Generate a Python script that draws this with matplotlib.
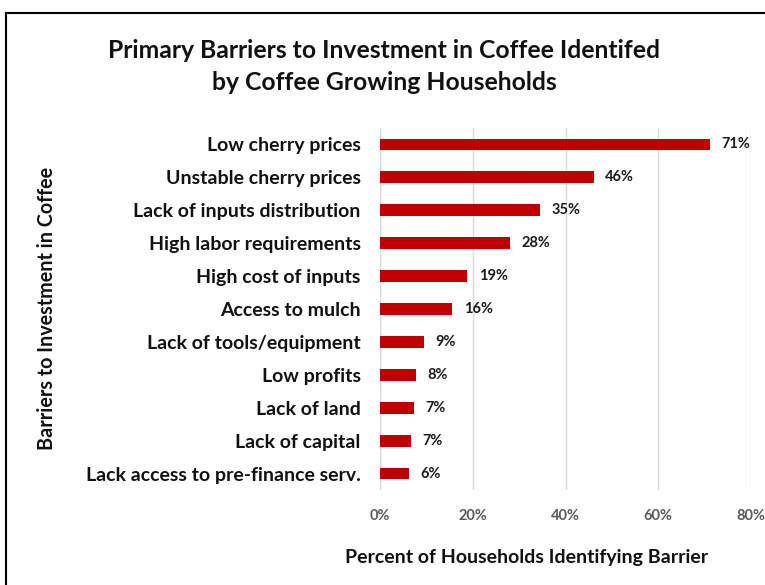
import matplotlib
matplotlib.use("Agg")
import matplotlib.pyplot as plt
from matplotlib.ticker import FuncFormatter
from matplotlib.lines import Line2D

categories = ["Low cherry prices", "Unstable cherry prices", "Lack of inputs distribution",
              "High labor requirements", "High cost of inputs", "Access to mulch",
              "Lack of tools/equipment", "Low profits", "Lack of land", "Lack of capital",
              "Lack access to pre-finance serv."]
values = [71.2, 46.1, 34.6, 28.0, 18.8, 15.6, 9.4, 7.8, 7.3, 6.7, 6.2]
labels = ["71%", "46%", "35%", "28%", "19%", "16%", "9%", "8%", "7%", "7%", "6%"]
xticks = [0, 20, 40, 60, 80]

plt.rcParams['font.family'] = ['Lato', 'DejaVu Sans']

fig = plt.figure(figsize=(7.65, 5.85), dpi=100)
ax = fig.add_axes([380/765, 1-490/585, 371/765, (490-128)/585])

y = list(range(len(categories)))
ax.barh(y, values, height=0.36, color="#C00000", zorder=3)
for yi, v, lab in zip(y, values, labels):
    ax.text(v + 2.5, yi, lab, va="center", ha="left", fontsize=10.5, fontweight="bold", color="#1a1a1a")

ax.set_ylim(len(categories) - 0.5, -0.5)
ax.set_xlim(0, 80)
ax.set_xticks(xticks)
ax.xaxis.set_major_formatter(FuncFormatter(lambda v, p: f"{int(v)}%"))
ax.set_yticks(y)
ax.set_yticklabels(categories, fontsize=14, fontweight="bold", color="#111111")
ax.tick_params(axis="y", length=0, pad=14)
ax.tick_params(axis="x", length=0, pad=14, labelsize=10.5, labelcolor="#595959")
for t in ax.get_xticklabels():
    t.set_fontweight("bold")
ax.grid(axis="x", color="#d9d9d9", linewidth=1, zorder=0)
for s in ax.spines.values():
    s.set_visible(False)

fig.text(384/765, 1-50/585, "Primary Barriers to Investment in Coffee Identifed", ha="center", va="center",
         fontsize=17.8, fontweight="bold", color="#111111")
fig.text(384/765, 1-83/585, "by Coffee Growing Households", ha="center", va="center",
         fontsize=17.8, fontweight="bold", color="#111111")
fig.text(527/765, 1-558/585, "Percent of Households Identifying Barrier", ha="center", va="center",
         fontsize=14, fontweight="bold", color="#111111")
fig.text(47/765, 1-308/585, "Barriers to Investment in Coffee", ha="center", va="center",
         rotation=90, fontsize=14.2, fontweight="bold", color="#111111")

fig.add_artist(Line2D([6/765, 6/765], [0, 1-13/585], transform=fig.transFigure, color="black", linewidth=1.5))
fig.add_artist(Line2D([6/765, 1], [1-13/585, 1-13/585], transform=fig.transFigure, color="black", linewidth=1.5))

fig.savefig("out.png", dpi=100)
